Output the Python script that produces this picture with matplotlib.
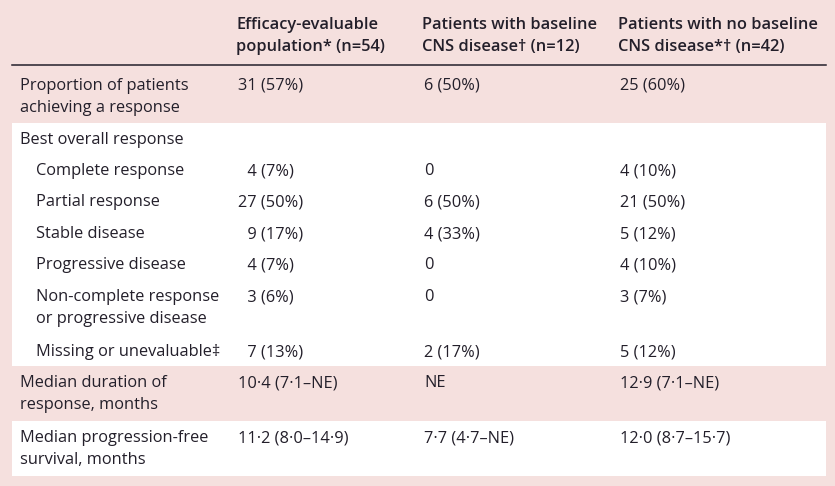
import matplotlib
matplotlib.use('Agg')
import matplotlib.pyplot as plt
from matplotlib.patches import Rectangle

plt.rcParams['font.family'] = ['Open Sans', 'DejaVu Sans']

# header texts
headers = ["Efficacy-evaluable\npopulation* (n=54)",
           "Patients with baseline\nCNS disease\u2020 (n=12)",
           "Patients with no baseline\nCNS disease*\u2020 (n=42)"]

row_labels = ["Proportion of patients\nachieving a response",
              "Best overall response",
              "Complete response",
              "Partial response",
              "Stable disease",
              "Progressive disease",
              "Non-complete response\nor progressive disease",
              "Missing or unevaluable\u2021",
              "Median duration of\nresponse, months",
              "Median progression-free\nsurvival, months"]
indented = [False, False, True, True, True, True, True, True, False, False]

# figure space (\u2007) pads the single-digit counts like in the source table
col_all = ["31 (57%)", "", "\u20074 (7%)", "27 (50%)", "\u20079 (17%)", "\u20074 (7%)",
           "\u20073 (6%)", "\u20077 (13%)", "10\u00b74 (7\u00b71\u2013NE)", "11\u00b72 (8\u00b70\u201314\u00b79)"]
col_cns = ["6 (50%)", "", "0", "6 (50%)", "4 (33%)", "0",
           "0", "2 (17%)", "NE", "7\u00b77 (4\u00b77\u2013NE)"]
col_no_cns = ["25 (60%)", "", "4 (10%)", "21 (50%)", "5 (12%)", "4 (10%)",
              "3 (7%)", "5 (12%)", "12\u00b79 (7\u00b71\u2013NE)", "12\u00b70 (8\u00b77\u201315\u00b77)"]

# layout (pixels)
W, H = 835, 486
row_y = [88, 142, 173, 204, 236, 267, 299, 354, 385, 440]
col_x = [236, 422, 618]
pink = '#f5e0de'
ink = '#231f2a'
fs = 11.8

fig = plt.figure(figsize=(W / 100, H / 100), dpi=100)
fig.patch.set_facecolor(pink)
ax = fig.add_axes([0, 0, 1, 1])
ax.set_xlim(0, W)
ax.set_ylim(H, 0)
ax.axis('off')

# white bands
ax.add_patch(Rectangle((12, 123), 814, 243, facecolor='white', edgecolor='none'))
ax.add_patch(Rectangle((12, 421), 814, 55, facecolor='white', edgecolor='none'))
# header rule
ax.plot([12, 826], [65.5, 65.5], color=ink, lw=1.1)

for x, h in zip(col_x, headers):
    ax.text(x, 17, h, fontsize=fs, fontweight='semibold', color=ink,
            va='top', ha='left', linespacing=1.5)

for i, lab in enumerate(row_labels):
    x = 36 if indented[i] else 20
    y = row_y[i] - 10
    ax.text(x, y, lab, fontsize=fs, color=ink, va='top', ha='left', linespacing=1.5)
    for cx, col in zip(col_x, [col_all, col_cns, col_no_cns]):
        ax.text(cx + 2, y, col[i], fontsize=fs, color=ink, va='top', ha='left')

fig.savefig('out.png', dpi=100, facecolor=pink)
